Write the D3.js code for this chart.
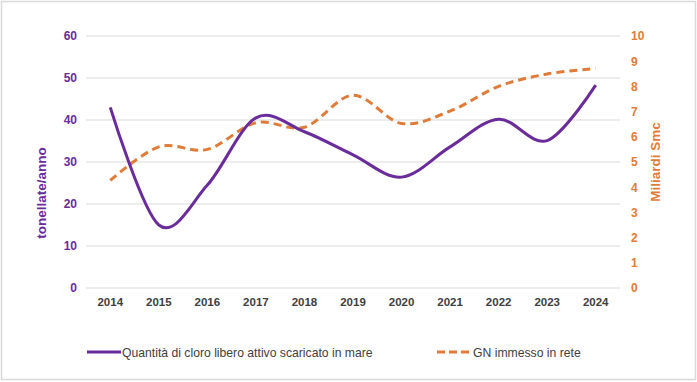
<!DOCTYPE html>
<html><head><meta charset="utf-8">
<script src="https://cdn.jsdelivr.net/npm/d3@7"></script>
<style>
html,body{margin:0;padding:0;background:#fff;}
svg{display:block;font-family:"Liberation Sans",Arial,sans-serif;}
</style></head>
<body><svg id="c" width="697" height="382"></svg>
<script>
const years = ["2014","2015","2016","2017","2018","2019","2020","2021","2022","2023","2024"];
const cloro = [43, 15, 24.5, 40.5, 37.2, 31.7, 26.4, 33.6, 40.2, 35.1, 48.3];
const gn = [4.27, 5.6, 5.5, 6.56, 6.38, 7.65, 6.53, 7.02, 8.0, 8.49, 8.71];
const leftTicks = [0,10,20,30,40,50,60];
const rightTicks = [0,1,2,3,4,5,6,7,8,9,10];
const purple = "#6a2c9b", orange = "#e07b39";

const svg = d3.select("#c");
svg.append("rect").attr("x",1.5).attr("y",1.5).attr("width",694).attr("height",378)
  .attr("fill","#fff").attr("stroke","#d9d9d9").attr("stroke-width",1.5);

const x = d3.scaleBand().domain(years).range([86,620]);
const yL = d3.scaleLinear().domain([0,60]).range([288,36]);
const yR = d3.scaleLinear().domain([0,10]).range([288,36]);

// gridlines
svg.append("g").selectAll("line").data(leftTicks).join("line")
  .attr("x1",86).attr("x2",620).attr("y1",d=>yL(d)).attr("y2",d=>yL(d))
  .attr("stroke","#d9d9d9").attr("stroke-width",1);

// left axis
const gl = svg.append("g").attr("transform","translate(77,0)")
  .call(d3.axisLeft(yL).tickValues(leftTicks).tickSize(0).tickPadding(0));
gl.select(".domain").remove();
gl.selectAll("text").attr("fill",purple).attr("font-size",12).attr("font-weight","bold")
  .attr("font-family","Liberation Sans, Arial, sans-serif");

// right axis
const gr = svg.append("g").attr("transform","translate(631,0)")
  .call(d3.axisRight(yR).tickValues(rightTicks).tickSize(0).tickPadding(0));
gr.select(".domain").remove();
gr.selectAll("text").attr("fill",orange).attr("font-size",12).attr("font-weight","bold")
  .attr("font-family","Liberation Sans, Arial, sans-serif");

// x axis
const gx = svg.append("g").attr("transform","translate(0,293)")
  .call(d3.axisBottom(x).tickSize(0).tickPadding(5));
gx.select(".domain").remove();
gx.selectAll("text").attr("fill","#404040").attr("font-size",11.5).attr("font-weight","bold")
  .attr("font-family","Liberation Sans, Arial, sans-serif");

// axis titles
svg.append("text").attr("transform","translate(46,193) rotate(-90)")
  .attr("text-anchor","middle").attr("fill",purple).attr("font-size",13.5).attr("font-weight","bold")
  .text("tonellate/anno");
svg.append("text").attr("transform","translate(660,162) rotate(-90)")
  .attr("text-anchor","middle").attr("fill",orange).attr("font-size",13.5).attr("font-weight","bold")
  .text("Miliardi Smc");

const cx = d => x(d) + x.bandwidth()/2;
const lineL = d3.line().x((d,i)=>cx(years[i])).y(d=>yL(d)).curve(d3.curveCatmullRom.alpha(0));
const lineR = d3.line().x((d,i)=>cx(years[i])).y(d=>yR(d)).curve(d3.curveCatmullRom.alpha(0));

svg.append("path").attr("d",lineR(gn)).attr("fill","none").attr("stroke",orange)
  .attr("stroke-width",3).attr("stroke-dasharray","8,5");
svg.append("path").attr("d",lineL(cloro)).attr("fill","none").attr("stroke",purple)
  .attr("stroke-width",3);

// legend
const lg = svg.append("g");
lg.append("line").attr("x1",87).attr("x2",121).attr("y1",352).attr("y2",352)
  .attr("stroke",purple).attr("stroke-width",3);
lg.append("text").attr("x",122).attr("y",356.5).attr("fill","#404040").attr("font-size",12.2)
  .text("Quantità di cloro libero attivo scaricato in mare");
lg.append("line").attr("x1",437).attr("x2",471).attr("y1",352).attr("y2",352)
  .attr("stroke",orange).attr("stroke-width",3).attr("stroke-dasharray","8,4");
lg.append("text").attr("x",473).attr("y",356.5).attr("fill","#404040").attr("font-size",12.2)
  .text("GN immesso in rete");
</script></body></html>
